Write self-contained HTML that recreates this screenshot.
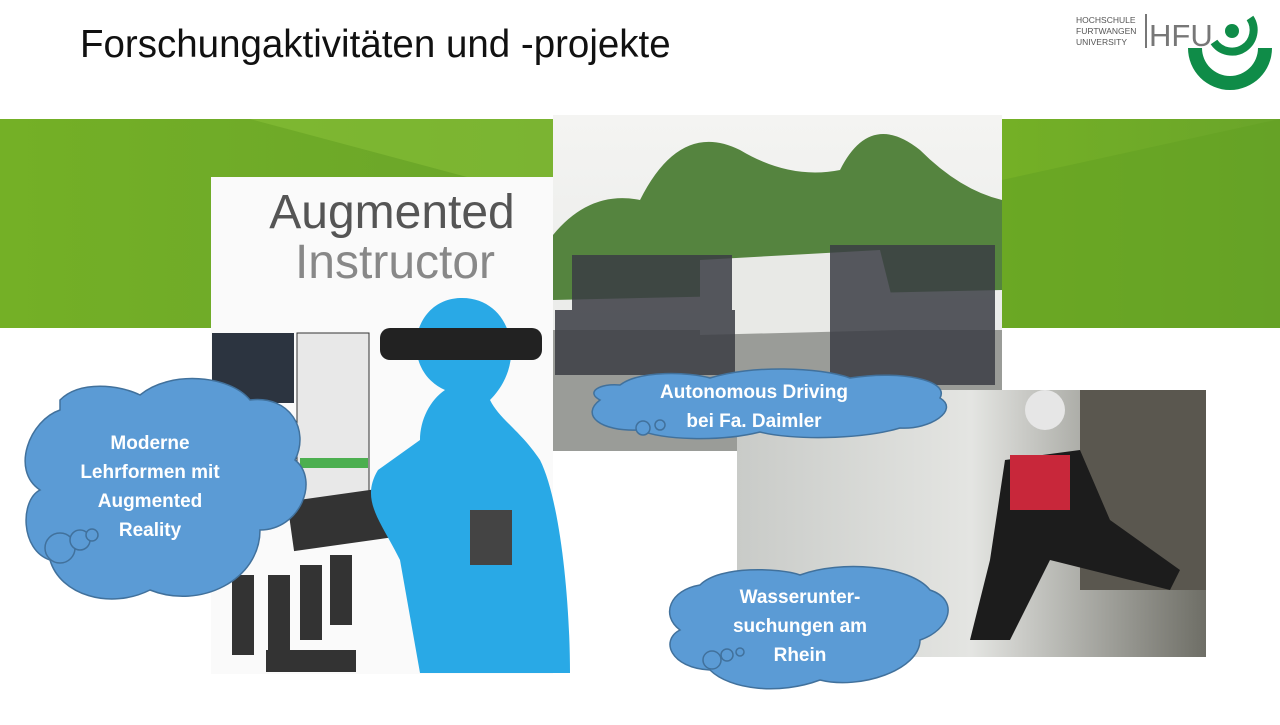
<!DOCTYPE html>
<html><head><meta charset="utf-8">
<style>
body{margin:0;width:1280px;height:720px;overflow:hidden;background:#fff;font-family:"Liberation Sans",sans-serif;}
</style></head><body>
<svg width="1280" height="720" viewBox="0 0 1280 720" xmlns="http://www.w3.org/2000/svg">
<defs>
<linearGradient id="g" x1="0" y1="0" x2="1" y2="0">
<stop offset="0" stop-color="#74b026"/><stop offset="1" stop-color="#6aa52a"/></linearGradient>
<linearGradient id="sky" x1="0" y1="0" x2="0" y2="1">
<stop offset="0" stop-color="#f4f4f2"/><stop offset="1" stop-color="#e4e6e4"/></linearGradient>
<linearGradient id="water" x1="0" y1="0" x2="1" y2="0">
<stop offset="0" stop-color="#c9cbc8"/><stop offset="0.5" stop-color="#e4e5e2"/><stop offset="1" stop-color="#6e6e66"/></linearGradient>
</defs>
<text x="80" y="57" font-size="38.5" fill="#111" font-family="Liberation Sans, sans-serif">Forschungaktivitäten und -projekte</text>
<!-- logo -->
<text x="1076" y="23" font-size="8.5" fill="#555">HOCHSCHULE</text>
<text x="1076" y="34" font-size="8.5" fill="#555">FURTWANGEN</text>
<text x="1076" y="45" font-size="8.5" fill="#555">UNIVERSITY</text>
<rect x="1145" y="14" width="2" height="34" fill="#777"/>
<text x="1149" y="46" font-size="31" fill="#777">HFU</text>
<path d="M1188 48 A42 42 0 0 0 1272 48 L1258 48 A28 28 0 0 1 1202 48Z" fill="#0f8c48"/>
<path d="M1214 42 A20 20 0 1 0 1250 18" stroke="#0f8c48" stroke-width="8" fill="none"/>
<circle cx="1232" cy="31" r="7" fill="#0f8c48"/>
<!-- green bands -->
<rect x="0" y="119" width="553" height="209" fill="url(#g)"/>
<path d="M250 119 L553 119 L553 200 Z" fill="#8cc43a" opacity="0.5"/>
<rect x="1002" y="119" width="278" height="209" fill="url(#g)"/>
<path d="M1002 180 L1280 119 L1280 328 L1002 328Z" fill="#62a022" opacity="0.5"/>
<!-- left image -->
<rect x="211" y="177" width="342" height="497" fill="#fafafa"/>
<text x="392" y="228" font-size="48" fill="#555" text-anchor="middle">Augmented</text>
<text x="395" y="278" font-size="48" fill="#888" text-anchor="middle">Instructor</text>
<rect x="212" y="333" width="82" height="70" fill="#2c3440"/>
<rect x="297" y="333" width="72" height="180" fill="#e8e8e8" stroke="#333"/>
<rect x="300" y="458" width="68" height="10" fill="#4caf50"/>
<rect x="290" y="493" width="118" height="50" fill="#333" transform="rotate(-8 350 518)"/>
<rect x="232" y="575" width="22" height="80" fill="#333"/>
<rect x="268" y="575" width="22" height="80" fill="#333"/>
<rect x="300" y="565" width="22" height="75" fill="#333"/>
<rect x="330" y="555" width="22" height="70" fill="#333"/>
<rect x="266" y="650" width="90" height="22" fill="#333"/>
<!-- figure -->
<path d="M420 673 L400 560 C380 520 360 500 378 470 L420 440 C420 420 430 400 445 390 C400 370 410 300 460 298 C510 296 530 360 490 400 C500 420 520 430 540 460 C560 500 570 600 570 673Z" fill="#29a9e6"/>
<rect x="380" y="328" width="162" height="32" rx="10" fill="#222"/>
<rect x="470" y="510" width="42" height="55" fill="#444"/>
<!-- top photo -->
<rect x="553" y="115" width="449" height="336" fill="url(#sky)"/>
<path d="M553 235 Q590 190 640 200 Q680 120 740 150 Q790 180 840 170 Q870 110 920 150 Q960 190 1002 200 L1002 290 L553 300Z" fill="#55843f"/>
<rect x="553" y="330" width="449" height="121" fill="#9a9c98"/>
<path d="M700 260 L880 250 L900 330 L700 335 Z" fill="#e8e9e6"/>
<g fill="#3b3d44" opacity="0.85">
<rect x="572" y="255" width="160" height="78"/>
<rect x="555" y="310" width="180" height="65"/>
<rect x="830" y="245" width="165" height="140"/>
</g>
<!-- river photo -->
<rect x="737" y="390" width="469" height="267" fill="url(#water)"/>
<rect x="1080" y="390" width="126" height="200" fill="#5a574f"/>
<path d="M1005 460 L1080 450 L1110 520 L1180 570 L1170 590 L1050 560 L1010 640 L970 640 L990 560Z" fill="#1c1c1c"/>
<rect x="1010" y="455" width="60" height="55" fill="#c8273a"/>
<circle cx="1045" cy="410" r="20" fill="#e6e6e6"/>
<!-- clouds -->
<g fill="#5b9bd5" stroke="#41719c" stroke-width="1.5">
<path d="M60 400 C80 380 120 385 140 395 C170 370 230 375 250 400 C290 395 310 430 295 460 C320 480 300 530 260 530 C260 580 200 610 150 590 C110 610 60 595 50 560 C20 550 20 500 40 490 C10 470 30 420 60 410Z"/>
<circle cx="60" cy="548" r="15"/><circle cx="80" cy="540" r="10"/><circle cx="92" cy="535" r="6"/>
<path d="M620 385 C640 370 690 372 710 378 C750 365 820 367 850 378 C900 370 950 380 940 398 C960 410 930 430 900 428 C860 440 790 440 760 432 C720 442 660 440 640 430 C600 432 580 415 600 400 C585 392 600 383 620 385Z"/>
<circle cx="643" cy="428" r="7"/><circle cx="660" cy="425" r="5"/>
<path d="M700 585 C720 565 780 568 800 575 C840 560 910 565 930 590 C960 600 950 630 920 640 C920 670 860 690 820 680 C780 695 730 690 710 670 C670 668 660 640 680 630 C660 615 670 590 700 585Z"/>
<circle cx="712" cy="660" r="9"/><circle cx="727" cy="655" r="6"/><circle cx="740" cy="652" r="4"/>
</g>
<g fill="#fff" font-weight="bold" font-size="19" text-anchor="middle">
<text x="150" y="449">Moderne</text>
<text x="150" y="478">Lehrformen mit</text>
<text x="150" y="507">Augmented</text>
<text x="150" y="536">Reality</text>
<text x="754" y="398">Autonomous Driving</text>
<text x="754" y="427">bei Fa. Daimler</text>
<text x="800" y="603">Wasserunter-</text>
<text x="800" y="632">suchungen am</text>
<text x="800" y="661">Rhein</text>
</g>
</svg>
</body></html>
